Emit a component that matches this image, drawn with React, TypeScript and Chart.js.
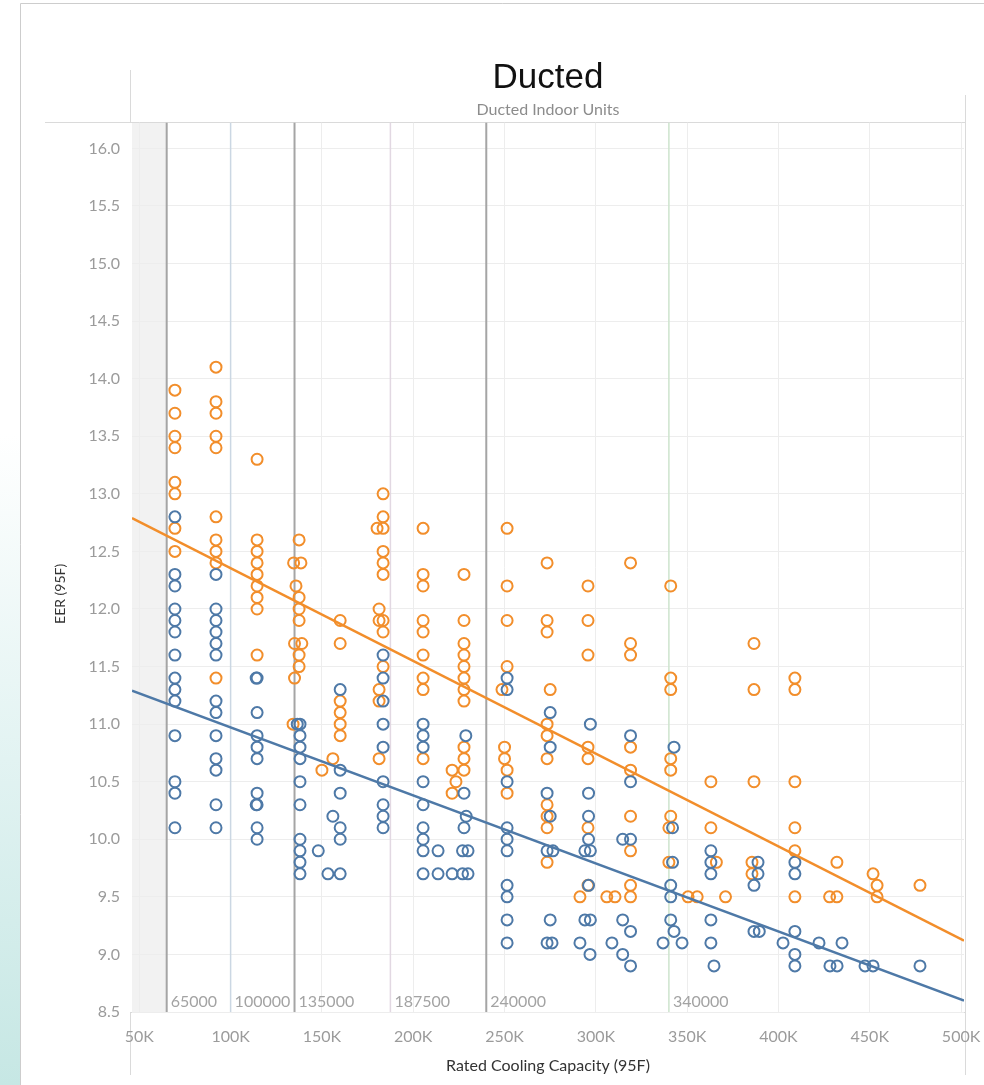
import React, { useEffect, useRef } from 'react';
import { Chart, registerables } from 'chart.js';

Chart.register(...registerables);

// ---- Axis ticks ----
const xTickValues = [50000, 100000, 150000, 200000, 250000, 300000, 350000, 400000, 450000, 500000];
const yTickValues = [8.5, 9.0, 9.5, 10.0, 10.5, 11.0, 11.5, 12.0, 12.5, 13.0, 13.5, 14.0, 14.5, 15.0, 15.5, 16.0];

// ---- Reference lines (rated capacity thresholds) ----
const refLineValues = [65000, 100000, 135000, 187500, 240000, 340000];

// ---- Orange series (capacity in K, EER) ----
const orangeCapK = [
  69.5, 69.5, 69.5, 69.5, 69.5, 69.5, 69.5, 69.5,
  92, 92, 92, 92, 92, 92, 92, 92, 92, 92,
  114.5, 114.5, 114.5, 114.5, 114.5, 114.5, 114.5, 114.5, 114.5,
  137.5, 134.5, 138.5, 135.8, 137.5, 137.5, 137.5, 135, 139, 137.5, 137.5, 135, 134.2,
  150, 156,
  160, 160, 160, 160, 160, 160,
  183.5, 183.5, 180.2, 183.5, 183.5, 183.5, 183.5, 181.3, 181.3, 183.5, 183.5, 183.5, 181.3, 181.3, 181.3,
  205.4, 205.4, 205.4, 205.4, 205.4, 205.4, 205.4, 205.4, 205.4,
  221.3, 223.4, 221.3,
  227.8, 227.8, 227.8, 227.8, 227.8, 227.8, 227.8, 227.8, 227.8, 227.8, 227.8,
  251.4, 251.4, 251.4, 251.4, 248.6, 250, 250, 251.4, 251.4,
  273.3, 273.3, 273.3, 275, 273.3, 273.3, 273.3, 273.3, 273.3, 273.3, 273.3,
  295.7, 295.7, 295.7, 295.7, 295.7, 295.7, 295.7, 291.3,
  306, 310.5, 319, 319, 319, 319, 319, 319, 319, 319, 319,
  341, 341, 341, 341, 341, 341, 340, 340, 350.5, 355.5,
  363, 363, 366, 371,
  386.6, 386.6, 386.6, 385.5, 385.5,
  409, 409, 409, 409, 409, 409,
  428, 432, 432,
  451.8, 454, 454,
  477.5,
];
const orangeEER = [
  13.9, 13.7, 13.5, 13.4, 13.1, 13.0, 12.7, 12.5,
  14.1, 13.8, 13.7, 13.5, 13.4, 12.8, 12.6, 12.5, 12.4, 11.4,
  13.3, 12.6, 12.5, 12.4, 12.3, 12.2, 12.1, 12.0, 11.6,
  12.6, 12.4, 12.4, 12.2, 12.1, 12.0, 11.9, 11.7, 11.7, 11.6, 11.5, 11.4, 11.0,
  10.6, 10.7,
  11.9, 11.7, 11.2, 11.1, 11.0, 10.9,
  13.0, 12.8, 12.7, 12.7, 12.5, 12.4, 12.3, 12.0, 11.9, 11.9, 11.8, 11.5, 11.3, 11.2, 10.7,
  12.7, 12.3, 12.2, 11.9, 11.8, 11.6, 11.4, 11.3, 10.7,
  10.6, 10.5, 10.4,
  12.3, 11.9, 11.7, 11.6, 11.5, 11.4, 11.3, 11.2, 10.8, 10.7, 10.6,
  12.7, 12.2, 11.9, 11.5, 11.3, 10.8, 10.7, 10.6, 10.4,
  12.4, 11.9, 11.8, 11.3, 11.0, 10.9, 10.7, 10.3, 10.2, 10.1, 9.8,
  12.2, 11.9, 11.6, 10.8, 10.7, 10.1, 9.6, 9.5,
  9.5, 9.5, 12.4, 11.7, 11.6, 10.8, 10.6, 10.2, 9.9, 9.6, 9.5,
  12.2, 11.4, 11.3, 10.7, 10.6, 10.2, 10.1, 9.8, 9.5, 9.5,
  10.5, 10.1, 9.8, 9.5,
  11.7, 11.3, 10.5, 9.8, 9.7,
  11.4, 11.3, 10.5, 10.1, 9.9, 9.5,
  9.5, 9.5, 9.8,
  9.7, 9.6, 9.5,
  9.6,
];

// ---- Blue series (capacity in K, EER) ----
const blueCapK = [
  69.5, 69.5, 69.5, 69.5, 69.5, 69.5, 69.5, 69.5, 69.5, 69.5, 69.5, 69.5, 69.5, 69.5,
  92, 92, 92, 92, 92, 92, 92, 92, 92, 92, 92, 92, 92,
  114.5, 114.0, 114.5, 114.5, 114.5, 114.5, 114.5, 114.0, 114.5, 114.5, 114.5,
  138, 138, 138, 138, 138, 138, 138, 138, 138, 138, 136.5,
  148, 153.3, 156, 160, 160, 160, 160, 160, 160,
  183.5, 183.5, 183.5, 183.5, 183.5, 183.5, 183.5, 183.5, 183.5,
  205.4, 205.4, 205.4, 205.4, 205.4, 205.4, 205.4, 205.4, 205.4,
  213.6, 213.6,
  221.3,
  228.8, 227.8, 229, 227.8, 227, 230, 227, 230,
  251.4, 251.4, 251.4, 251.4, 251.4, 251.4, 251.4, 251.4, 251.4, 251.4,
  275, 275, 273.3, 275, 273.3, 276.5, 275, 273.3, 276,
  297, 296, 296, 296, 294, 297, 296, 294, 297, 291.3, 296.8,
  319, 319, 314.7, 319, 314.7, 319, 308.8, 314.7, 319,
  342.8, 342, 342, 341, 341, 341, 342.8, 336.8, 347.2,
  363, 363, 363, 363, 363, 364.7,
  388.8, 388.8, 386.6, 386.6, 389.5,
  402.5,
  409, 409, 409, 409, 409,
  422.2, 434.8, 428.2, 432.1,
  447.4, 451.8,
  477.5,
];
const blueEER = [
  12.8, 12.3, 12.2, 12.0, 11.9, 11.8, 11.6, 11.4, 11.3, 11.2, 10.9, 10.5, 10.4, 10.1,
  12.3, 12.0, 11.9, 11.8, 11.7, 11.6, 11.2, 11.1, 10.9, 10.7, 10.6, 10.3, 10.1,
  11.4, 11.4, 11.1, 10.9, 10.8, 10.7, 10.4, 10.3, 10.3, 10.1, 10.0,
  11.0, 10.9, 10.8, 10.7, 10.5, 10.3, 10.0, 9.9, 9.8, 9.7, 11.0,
  9.9, 9.7, 10.2, 11.3, 10.6, 10.4, 10.1, 10.0, 9.7,
  11.6, 11.4, 11.2, 11.0, 10.8, 10.5, 10.3, 10.2, 10.1,
  11.0, 10.9, 10.8, 10.5, 10.3, 10.1, 10.0, 9.9, 9.7,
  9.9, 9.7,
  9.7,
  10.9, 10.4, 10.2, 10.1, 9.9, 9.9, 9.7, 9.7,
  11.4, 11.3, 10.5, 10.1, 10.0, 9.9, 9.6, 9.5, 9.3, 9.1,
  11.1, 10.8, 10.4, 10.2, 9.9, 9.9, 9.3, 9.1, 9.1,
  11.0, 10.4, 10.2, 10.0, 9.9, 9.9, 9.6, 9.3, 9.3, 9.1, 9.0,
  10.9, 10.5, 10.0, 10.0, 9.3, 9.2, 9.1, 9.0, 8.9,
  10.8, 10.1, 9.8, 9.6, 9.5, 9.3, 9.2, 9.1, 9.1,
  9.9, 9.8, 9.7, 9.3, 9.1, 8.9,
  9.8, 9.7, 9.6, 9.2, 9.2,
  9.1,
  9.8, 9.7, 9.2, 9.0, 8.9,
  9.1, 9.1, 8.9, 8.9,
  8.9, 8.9,
  8.9,
];

// ---- Trend lines ----
const trendCapacity = [46000, 501600];
const orangeTrendEER = [12.79, 9.12];
const blueTrendEER = [11.29, 8.6];

const ORANGE = '#f28e2b';
const BLUE = '#4e79a7';
const REF_STYLES = [
  { color: '#a5a5a5', width: 2 },
  { color: '#cbd7e3', width: 1.5 },
  { color: '#a5a5a5', width: 2 },
  { color: '#e2d8e2', width: 1.5 },
  { color: '#a5a5a5', width: 2 },
  { color: '#cde4cd', width: 1.5 },
];

const toPoints = (xs: number[], ys: number[], scale = 1) => xs.map((x, i) => ({ x: x * scale, y: ys[i] }));

const framePlugin = {
  id: 'frame',
  beforeDraw(chart: any) {
    const { ctx, chartArea } = chart;
    const { left, right, top, bottom } = chartArea;
    ctx.save();
    const xs = chart.scales.x;
    const bandEnd = xs.getPixelForValue(refLineValues[0]);
    ctx.fillStyle = '#f2f2f2';
    ctx.fillRect(left, top, bandEnd - left, bottom - top);
    ctx.strokeStyle = '#cdcdcd';
    ctx.lineWidth = 1;
    const line = (x1: number, y1: number, x2: number, y2: number) => {
      ctx.beginPath();
      ctx.moveTo(x1, y1);
      ctx.lineTo(x2, y2);
      ctx.stroke();
    };
    line(20.5, 3.5, chart.width, 3.5);
    line(20.5, 3.5, 20.5, chart.height);
    ctx.strokeStyle = '#dadada';
    line(45, Math.round(top) - 0.5, right + 1, Math.round(top) - 0.5);
    line(left - 1.5, 70, left - 1.5, top);
    line(right + 1.5, 95, right + 1.5, chart.height - 10);
    line(left - 1.5, Math.round(bottom) + 0.5, right + 1, Math.round(bottom) + 0.5);
    line(left - 1.5, bottom, left - 1.5, chart.height - 10);
    ctx.restore();
  },
};

const refLinePlugin = {
  id: 'refLines',
  beforeDatasetsDraw(chart: any) {
    const { ctx, chartArea } = chart;
    const xs = chart.scales.x;
    ctx.save();
    refLineValues.forEach((v, i) => {
      const px = xs.getPixelForValue(v);
      const st = REF_STYLES[i];
      ctx.strokeStyle = st.color;
      ctx.lineWidth = st.width;
      ctx.beginPath();
      ctx.moveTo(px, chartArea.top);
      ctx.lineTo(px, chartArea.bottom);
      ctx.stroke();
      ctx.fillStyle = '#a3a3a3';
      ctx.font = '16px Lato, sans-serif';
      ctx.textAlign = 'left';
      ctx.textBaseline = 'middle';
      ctx.fillText(String(v), px + 4, chartArea.bottom - 10);
    });
    ctx.restore();
  },
};

const yTitlePlugin = {
  id: 'yTitle',
  afterDraw(chart: any) {
    const { ctx, chartArea } = chart;
    ctx.save();
    ctx.translate(60, (chartArea.top + chart.height - 20) / 2);
    ctx.rotate(-Math.PI / 2);
    ctx.fillStyle = '#333333';
    ctx.font = '14px Lato, sans-serif';
    ctx.textAlign = 'center';
    ctx.textBaseline = 'middle';
    ctx.fillText('EER (95F)', 0, 0);
    ctx.restore();
  },
};

export default function App() {
  const canvasRef = useRef<HTMLCanvasElement>(null);

  useEffect(() => {
    const canvas = canvasRef.current;
    if (!canvas) return;
    const chart = new Chart(canvas, {
      type: 'scatter',
      data: {
        datasets: [
          {
            type: 'line',
            label: 'Orange trend',
            data: toPoints(trendCapacity, orangeTrendEER),
            borderColor: ORANGE,
            borderWidth: 2.5,
            pointRadius: 0,
            fill: false,
            order: 0,
          } as any,
          {
            type: 'line',
            label: 'Blue trend',
            data: toPoints(trendCapacity, blueTrendEER),
            borderColor: BLUE,
            borderWidth: 2.5,
            pointRadius: 0,
            fill: false,
            order: 1,
          } as any,
          {
            label: 'Blue units',
            data: toPoints(blueCapK, blueEER, 1000),
            borderColor: BLUE,
            backgroundColor: 'rgba(0,0,0,0)',
            pointRadius: 5.5,
            pointBorderWidth: 2,
            order: 2,
          },
          {
            label: 'Orange units',
            data: toPoints(orangeCapK, orangeEER, 1000),
            borderColor: ORANGE,
            backgroundColor: 'rgba(0,0,0,0)',
            pointRadius: 5.5,
            pointBorderWidth: 2,
            order: 3,
          },
        ],
      },
      options: {
        responsive: false,
        maintainAspectRatio: false,
        animation: false,
        layout: { padding: { left: 0, right: 20, top: 0, bottom: 0 } },
        plugins: {
          legend: { display: false },
          tooltip: { enabled: false },
          title: {
            display: true,
            text: 'Ducted',
            fullSize: false,
            color: '#111111',
            font: { family: '"Liberation Sans", Arial, sans-serif', size: 35, weight: 'normal', lineHeight: 1.2 },
            padding: { top: 57, bottom: 0 },
          },
          subtitle: {
            display: true,
            text: 'Ducted Indoor Units',
            fullSize: false,
            color: '#8c8c8c',
            font: { family: 'Lato, sans-serif', size: 16, lineHeight: 1.2 },
            padding: { top: 1.4, bottom: 3.1 },
          },
        },
        scales: {
          x: {
            type: 'linear',
            min: 46000,
            max: 501600,
            afterBuildTicks: (s: any) => {
              s.ticks = xTickValues.map((v) => ({ value: v }));
            },
            afterFit: (s: any) => {
              s.height = 73;
            },
            ticks: {
              callback: (v: any) => `${Number(v) / 1000}K`,
              color: '#9b9b9b',
              font: { family: 'Lato, sans-serif', size: 16 },
              padding: 0,
              maxRotation: 0,
              autoSkip: false,
            },
            grid: { color: '#ededed', drawTicks: true, tickLength: 15, tickColor: 'rgba(0,0,0,0)' },
            border: { display: false },
            title: {
              display: true,
              text: 'Rated Cooling Capacity (95F)',
              color: '#333333',
              font: { family: 'Lato, sans-serif', size: 16, lineHeight: 1.2 },
              padding: { top: 0, bottom: 9.4 },
            },
          },
          y: {
            type: 'linear',
            min: 8.5,
            max: 16.223,
            afterBuildTicks: (s: any) => {
              s.ticks = yTickValues.map((v) => ({ value: v }));
            },
            afterFit: (s: any) => {
              s.width = 132;
            },
            ticks: {
              callback: (v: any) => Number(v).toFixed(1),
              color: '#9b9b9b',
              font: { family: 'Lato, sans-serif', size: 16 },
              padding: 0,
              autoSkip: false,
            },
            grid: { color: '#ededed', drawTicks: true, tickLength: 12, tickColor: 'rgba(0,0,0,0)' },
            border: { display: false },
          },
        },
      },
      plugins: [framePlugin, refLinePlugin, yTitlePlugin],
    });
    return () => chart.destroy();
  }, []);

  return (
    <div style={{ position: 'absolute', left: 0, top: 0, width: 984, height: 1085, background: '#ffffff', overflow: 'hidden' }}>
      <div
        style={{
          position: 'absolute',
          left: 0,
          top: 0,
          width: 20,
          height: 1085,
          background: 'linear-gradient(to bottom, #ffffff 0%, #ffffff 40%, #e2f3f2 70%, #c6e7e4 100%)',
        }}
      />
      <canvas
        ref={canvasRef}
        width={984}
        height={1085}
        style={{ position: 'absolute', left: 0, top: 0, width: 984, height: 1085 }}
      />
    </div>
  );
}
